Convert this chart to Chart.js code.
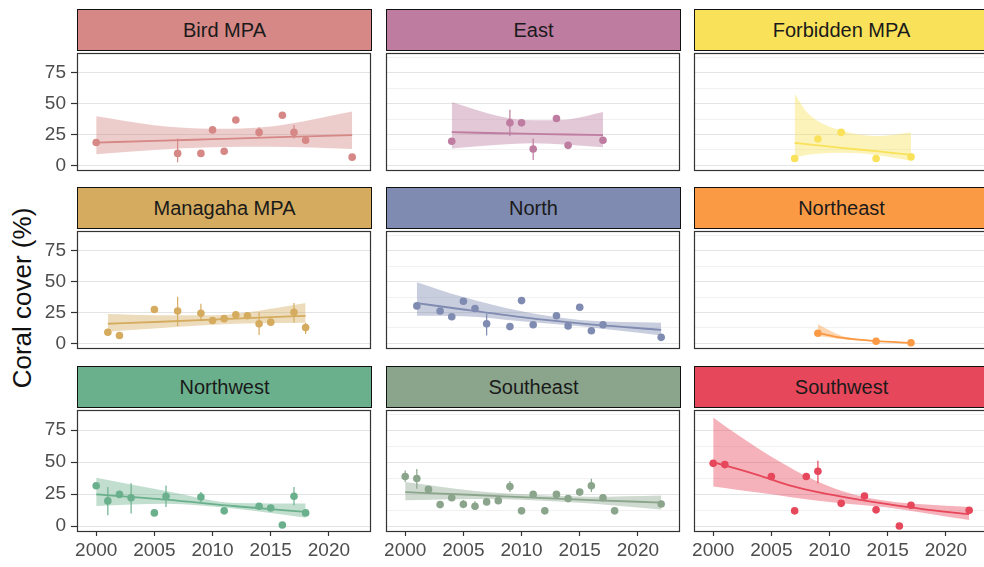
<!DOCTYPE html>
<html>
<head>
<meta charset="utf-8">
<script src="https://cdn.jsdelivr.net/npm/chart.js@4.4.0/dist/chart.umd.min.js"></script>
<style>
  html, body { margin: 0; padding: 0; background: #ffffff; }
  body { width: 984px; height: 567px; overflow: hidden; position: relative;
         font-family: 'Liberation Sans', Arial, sans-serif; }
  .strip { position: absolute; box-sizing: border-box; border: 1.5px solid #111;
           display: flex; align-items: center; justify-content: center;
           font-size: 20px; color: #1a1a1a; }
  canvas { position: absolute; }
  .ytitle { position: absolute; width: 320px; height: 30px; line-height: 30px;
            text-align: center; font-size: 26px; color: #111;
            transform: rotate(-90deg); }
</style>
</head>
<body>
<div class="ytitle" style="left:-138px; top:283px;">Coral cover (%)</div>
<script>
// ---- Site coral cover: survey means, error bars and fitted trend with CI ----
const sites = ['Bird MPA', 'East', 'Forbidden MPA', 'Managaha MPA', 'North', 'Northeast', 'Northwest', 'Southeast', 'Southwest'];
const siteColors = ['#D58886', '#BD7CA0', '#F9E25A', '#D5AC5F', '#7F8BB0', '#FB9A45', '#6BB08D', '#8BA58C', '#E6475A'];

const yTickValues = [0, 12.5, 25, 37.5, 50, 62.5, 75, 87.5];
const xTickValues = [2000, 2005, 2010, 2015, 2020];

// Bird MPA
const birdYears = [2000, 2007, 2009, 2010, 2011, 2012, 2014, 2016, 2017, 2018, 2022];
const birdCover = [18.5, 9.7, 9.7, 28.7, 11.5, 36.7, 26.7, 40.5, 26.7, 20.3, 6.7];
const birdErr = [[2007, 2.6, 21.8], [2014, 23.1, 30.8], [2017, 21.8, 32.6]];
const birdFitYears = [2000, 2005, 2010, 2015, 2022];
const birdFit = [18.5, 19.8, 21.2, 22.6, 24.4];
const birdLo = [9.0, 12.5, 14.6, 15.1, 13.3];
const birdHi = [39.7, 32.5, 29.7, 31.5, 43.6];

// East
const eastYears = [2004, 2009, 2010, 2011, 2013, 2014, 2017];
const eastCover = [19.5, 34.4, 34.4, 13.3, 37.9, 16.2, 20.3];
const eastErr = [[2009, 23.8, 44.9], [2011, 4.4, 21.8]];
const eastFitYears = [2004, 2008, 2011, 2014, 2017];
const eastFit = [26.9, 26.0, 25.5, 25.0, 24.4];
const eastLo = [13.6, 16.7, 17.9, 16.7, 14.6];
const eastHi = [51.3, 40.0, 36.4, 37.2, 43.1];

// Forbidden MPA
const forbYears = [2007, 2009, 2011, 2014, 2017];
const forbCover = [5.6, 21.3, 26.7, 5.6, 6.9];
const forbErr = [];
const forbFitYears = [2007, 2008, 2009, 2011, 2014, 2017];
const forbFit = [18.2, 17.2, 16.2, 14.2, 11.5, 8.5];
const forbLo = [6.4, 8.5, 9.5, 10.3, 8.5, 3.8];
const forbHi = [58.2, 43.6, 35.9, 28.2, 23.8, 26.9];

// Managaha MPA
const managYears = [2001, 2002, 2005, 2007, 2009, 2010, 2011, 2012, 2013, 2014, 2015, 2017, 2018];
const managCover = [9.0, 6.4, 27.4, 26.2, 24.4, 18.5, 20.0, 23.1, 22.3, 15.9, 17.2, 25.1, 12.8];
const managErr = [[2007, 14.1, 37.7], [2009, 18.0, 32.0], [2014, 6.9, 24.9], [2017, 16.7, 32.6], [2018, 7.7, 16.7]];
const managFitYears = [2001, 2005, 2010, 2014, 2018];
const managFit = [15.9, 17.3, 19.2, 20.8, 22.3];
const managLo = [9.5, 12.0, 15.0, 16.2, 16.7];
const managHi = [23.8, 22.8, 22.8, 26.5, 32.6];

// North
const northYears = [2001, 2003, 2004, 2005, 2006, 2007, 2009, 2010, 2011, 2013, 2014, 2015, 2016, 2017, 2022];
const northCover = [30.3, 26.2, 21.5, 34.1, 28.2, 15.9, 13.6, 34.6, 15.1, 22.3, 14.1, 29.2, 10.3, 15.1, 4.9];
const northErr = [[2007, 6.4, 23.8]];
const northFitYears = [2001, 2005, 2010, 2015, 2022];
const northFit = [32.6, 27.4, 21.3, 16.2, 11.0];
const northLo = [22.3, 22.0, 17.9, 13.8, 6.4];
const northHi = [49.5, 37.5, 26.0, 19.0, 16.7];

// Northeast
const neYears = [2009, 2014, 2017];
const neCover = [8.2, 1.8, 0.5];
const neErr = [];
const neFitYears = [2009, 2011, 2014, 2017];
const neFit = [8.5, 4.6, 1.8, 0.5];
const neLo = [6.0, 3.6, 1.3, 0.2];
const neHi = [15.4, 6.2, 2.4, 1.0];

// Northwest
const nwYears = [2000, 2001, 2002, 2003, 2005, 2006, 2009, 2011, 2014, 2015, 2016, 2017, 2018];
const nwCover = [31.5, 19.7, 24.8, 22.2, 10.3, 23.3, 22.8, 11.9, 15.5, 14.2, 0.8, 23.3, 10.3];
const nwErr = [[2001, 8.5, 30.5], [2003, 9.8, 33.6], [2006, 15.0, 31.8], [2009, 18.0, 26.7], [2017, 16.3, 30.5]];
const nwFitYears = [2000, 2006, 2012, 2018];
const nwFit = [24.8, 20.7, 15.5, 11.1];
const nwLo = [15.8, 17.5, 13.5, 6.5];
const nwHi = [37.8, 27.4, 18.0, 17.6];

// Southeast
const seYears = [2000, 2001, 2002, 2003, 2004, 2005, 2006, 2007, 2008, 2009, 2010, 2011, 2012, 2013, 2014, 2015, 2016, 2017, 2018, 2022];
const seCover = [38.8, 37.2, 28.7, 16.8, 22.2, 17.1, 15.5, 18.9, 19.9, 31.0, 11.9, 24.8, 11.9, 24.8, 21.5, 26.6, 31.5, 22.2, 11.9, 17.3];
const seErr = [[2000, 34.4, 43.4], [2001, 29.2, 44.7], [2005, 14.0, 20.5], [2006, 12.5, 19.5], [2007, 16.5, 21.5],
               [2009, 26.6, 35.2], [2011, 22.5, 27.0], [2013, 22.5, 27.0], [2016, 26.6, 37.0], [2017, 19.5, 24.5]];
const seFitYears = [2000, 2006, 2011, 2016, 2022];
const seFit = [26.6, 24.3, 22.2, 20.3, 18.4];
const seLo = [20.2, 21.2, 20.2, 17.6, 12.9];
const seHi = [34.4, 27.5, 24.5, 23.0, 24.0];

// Southwest
const swYears = [2000, 2001, 2005, 2007, 2008, 2009, 2011, 2013, 2014, 2016, 2017, 2022];
const swCover = [49.1, 48.1, 38.8, 11.9, 38.8, 42.9, 17.8, 23.5, 12.7, 0.0, 16.3, 12.4];
const swErr = [[2009, 33.6, 51.2]];
const swFitYears = [2000, 2002, 2004, 2006, 2008, 2010, 2012, 2015, 2018, 2022];
const swFit = [49.9, 45.0, 39.5, 33.5, 28.5, 24.8, 21.5, 17.1, 13.3, 9.3];
const swLo = [31.0, 28.5, 26.0, 23.5, 21.0, 18.9, 17.0, 14.5, 10.5, 4.7];
const swHi = [85.0, 72.0, 60.0, 49.0, 39.0, 31.0, 25.0, 19.7, 17.0, 15.0];

const panels = [
  [birdYears, birdCover, birdErr, birdFitYears, birdFit, birdLo, birdHi],
  [eastYears, eastCover, eastErr, eastFitYears, eastFit, eastLo, eastHi],
  [forbYears, forbCover, forbErr, forbFitYears, forbFit, forbLo, forbHi],
  [managYears, managCover, managErr, managFitYears, managFit, managLo, managHi],
  [northYears, northCover, northErr, northFitYears, northFit, northLo, northHi],
  [neYears, neCover, neErr, neFitYears, neFit, neLo, neHi],
  [nwYears, nwCover, nwErr, nwFitYears, nwFit, nwLo, nwHi],
  [seYears, seCover, seErr, seFitYears, seFit, seLo, seHi],
  [swYears, swCover, swErr, swFitYears, swFit, swLo, swHi]
];

// ---- layout of the 3 x 3 facet grid ----
const colLeft = [77, 386, 694];
const rowTop = [50, 228, 407];
const plotW = 295, plotH = 123, stripH = 41;

const zip = (xs, ys) => xs.map((x, i) => ({ x: x, y: ys[i] }));
function rgba(hex, a) {
  const n = parseInt(hex.slice(1), 16);
  return `rgba(${(n >> 16) & 255},${(n >> 8) & 255},${n & 255},${a})`;
}
function noPad(s) {
  s.paddingTop = 0; s.paddingBottom = 0; s.paddingLeft = 0; s.paddingRight = 0;
}

const framePlugin = {
  id: 'frame',
  afterDraw(chart) {
    const a = chart.chartArea, g = chart.ctx;
    g.save();
    g.strokeStyle = '#333333';
    g.lineWidth = 1.2;
    g.strokeRect(Math.round(a.left) + 0.5, Math.round(a.top) + 0.5,
                 Math.round(a.right - a.left), Math.round(a.bottom - a.top));
    g.restore();
  }
};

Chart.defaults.font.family = "'Liberation Sans', Arial, sans-serif";

panels.forEach((p, idx) => {
  const r = Math.floor(idx / 3), c = idx % 3;
  const color = siteColors[idx];
  const [years, cover, err, fitYears, fit, lo, hi] = p;

  // facet strip
  const strip = document.createElement('div');
  strip.className = 'strip';
  strip.style.left = colLeft[c] + 'px';
  strip.style.top = (rowTop[r] - stripH) + 'px';
  strip.style.width = plotW + 'px';
  strip.style.height = (stripH + 1) + 'px';
  strip.style.background = color;
  strip.textContent = sites[idx];
  document.body.appendChild(strip);

  const L = c === 0 ? 45 : 10;
  const B = r === 2 ? 36 : 0;
  const w = plotW + L + 2, h = plotH + 2 + B;
  const cv = document.createElement('canvas');
  cv.width = w; cv.height = h;
  cv.style.left = (colLeft[c] - L) + 'px';
  cv.style.top = (rowTop[r] - 1) + 'px';
  cv.style.width = w + 'px'; cv.style.height = h + 'px';
  document.body.appendChild(cv);

  const errData = [];
  err.forEach(([x, l, u]) => { errData.push({ x: x, y: l }, { x: x, y: u }, { x: x, y: null }); });

  new Chart(cv, {
    type: 'line',
    data: {
      datasets: [
        { data: zip(fitYears, lo), borderColor: 'transparent', borderWidth: 0, pointRadius: 0,
          fill: false, cubicInterpolationMode: 'monotone', order: 5 },
        { data: zip(fitYears, hi), borderColor: 'transparent', borderWidth: 0, pointRadius: 0,
          fill: '-1', backgroundColor: rgba(color, 0.42), cubicInterpolationMode: 'monotone', order: 4 },
        { data: zip(fitYears, fit), borderColor: color, borderWidth: 1.8, pointRadius: 0,
          fill: false, cubicInterpolationMode: 'monotone', order: 3 },
        { data: errData, borderColor: color, borderWidth: 1.2, pointRadius: 0, fill: false,
          spanGaps: false, order: 2 },
        { data: zip(years, cover), showLine: false, pointRadius: 3.8, pointHoverRadius: 3.8,
          pointBackgroundColor: color, pointBorderWidth: 0, order: 1 }
      ]
    },
    options: {
      responsive: false,
      maintainAspectRatio: false,
      animation: false,
      devicePixelRatio: 1,
      events: [],
      layout: { padding: { top: 1, right: 2, left: 0, bottom: B ? 0 : 1 } },
      plugins: { legend: { display: false }, tooltip: { enabled: false }, title: { display: false } },
      scales: {
        x: {
          type: 'linear', min: 1998.35, max: 2023.55,
          afterBuildTicks: s => { s.ticks = xTickValues.map(v => ({ value: v })); },
          afterFit: s => { s.height = B; noPad(s); },
          border: { display: false },
          grid: { display: true, drawOnChartArea: false, drawTicks: r === 2, tickLength: 5,
                  tickColor: '#333333', tickWidth: 1.2 },
          ticks: { display: r === 2, autoSkip: false, maxRotation: 0, padding: 3,
                   color: '#4D4D4D', font: { size: 19 }, callback: v => String(v) }
        },
        y: {
          type: 'linear', min: -3.86, max: 91.0,
          afterBuildTicks: s => { s.ticks = yTickValues.map(v => ({ value: v })); },
          afterFit: s => { s.width = L; noPad(s); },
          border: { display: false },
          grid: {
            drawTicks: c === 0, tickLength: 6,
            color: ctx => (ctx.tick && ctx.tick.value % 25 === 0) ? '#E4E4E4' : '#F1F1F1',
            tickColor: ctx => (ctx.tick && ctx.tick.value % 25 === 0) ? '#333333' : 'rgba(0,0,0,0)',
            tickWidth: 1.2
          },
          ticks: { display: c === 0, padding: 5, color: '#4D4D4D', font: { size: 19 },
                   callback: v => (v % 25 === 0 ? String(v) : '') }
        }
      }
    },
    plugins: [framePlugin]
  });
});
</script>
</body>
</html>
